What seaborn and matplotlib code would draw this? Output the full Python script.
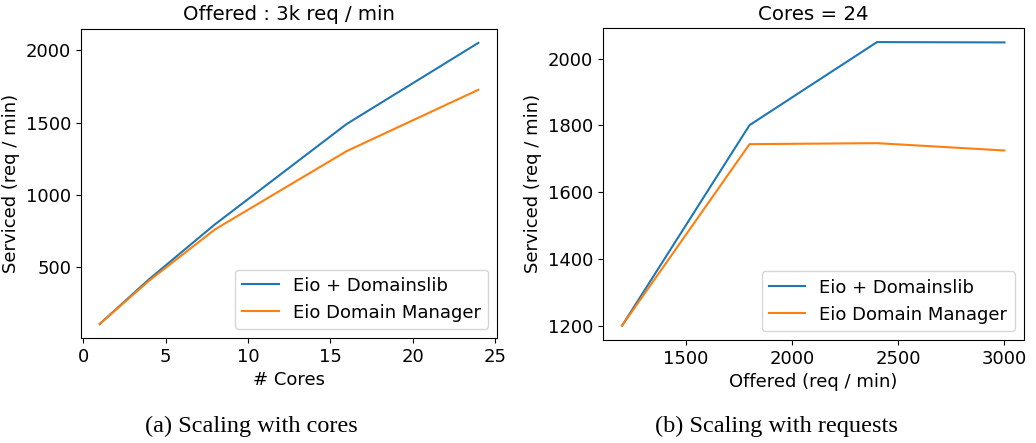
"""Throughput scaling plots: cores and offered load."""
import matplotlib
matplotlib.use('Agg')
import matplotlib.pyplot as plt
import pandas as pd
import seaborn as sns

series_names = ['Eio + Domainslib', 'Eio Domain Manager']

cores = [1, 4, 8, 16, 24]
cores_domainslib = [105, 415, 795, 1490, 2052]
cores_manager = [105, 405, 760, 1302, 1727]

offered = [1200, 1800, 2400, 3000]
offered_domainslib = [1200, 1801, 2050, 2049]
offered_manager = [1200, 1744, 1747, 1725]


def long_df(x, a, b, xname):
    return pd.DataFrame({
        xname: x + x,
        'serviced': a + b,
        'series': [series_names[0]] * len(x) + [series_names[1]] * len(x),
    })


df_cores = long_df(cores, cores_domainslib, cores_manager, 'x')
df_offered = long_df(offered, offered_domainslib, offered_manager, 'x')

plt.rcParams['font.size'] = 13
fig = plt.figure(figsize=(10.36, 4.43), dpi=100)
ax1 = fig.add_axes([0.078, 0.237, 0.402, 0.698])
ax2 = fig.add_axes([0.582, 0.233, 0.406, 0.704])

palette = ['#1f77b4', '#ff7f0e']
for ax, df in [(ax1, df_cores), (ax2, df_offered)]:
    sns.lineplot(data=df, x='x', y='serviced', hue='series', palette=palette,
                 linewidth=1.5, ax=ax)
    ax.legend(loc='lower right', fontsize=13)
    ax.set_ylabel('Serviced (req / min)', fontsize=13)
    ax.tick_params(labelsize=13)

ax1.set_title('Offered : 3k req / min', fontsize=14.2)
ax1.set_xlabel('# Cores', fontsize=13)
ax1.set_xticks([0, 5, 10, 15, 20, 25])
ax1.set_yticks([500, 1000, 1500, 2000])

ax2.set_title('Cores = 24', fontsize=14.2)
ax2.set_xlabel('Offered (req / min)', fontsize=13)
ax2.set_xticks([1500, 2000, 2500, 3000])
ax2.set_yticks([1200, 1400, 1600, 1800, 2000])

fig.text(251 / 1036, 1 - 426 / 443, '(a) Scaling with cores', ha='center', va='center',
         family='Liberation Serif', fontsize=17.5)
fig.text(776 / 1036, 1 - 426 / 443, '(b) Scaling with requests', ha='center', va='center',
         family='Liberation Serif', fontsize=17.5)

fig.savefig('out.png', dpi=100)
plt.close(fig)
